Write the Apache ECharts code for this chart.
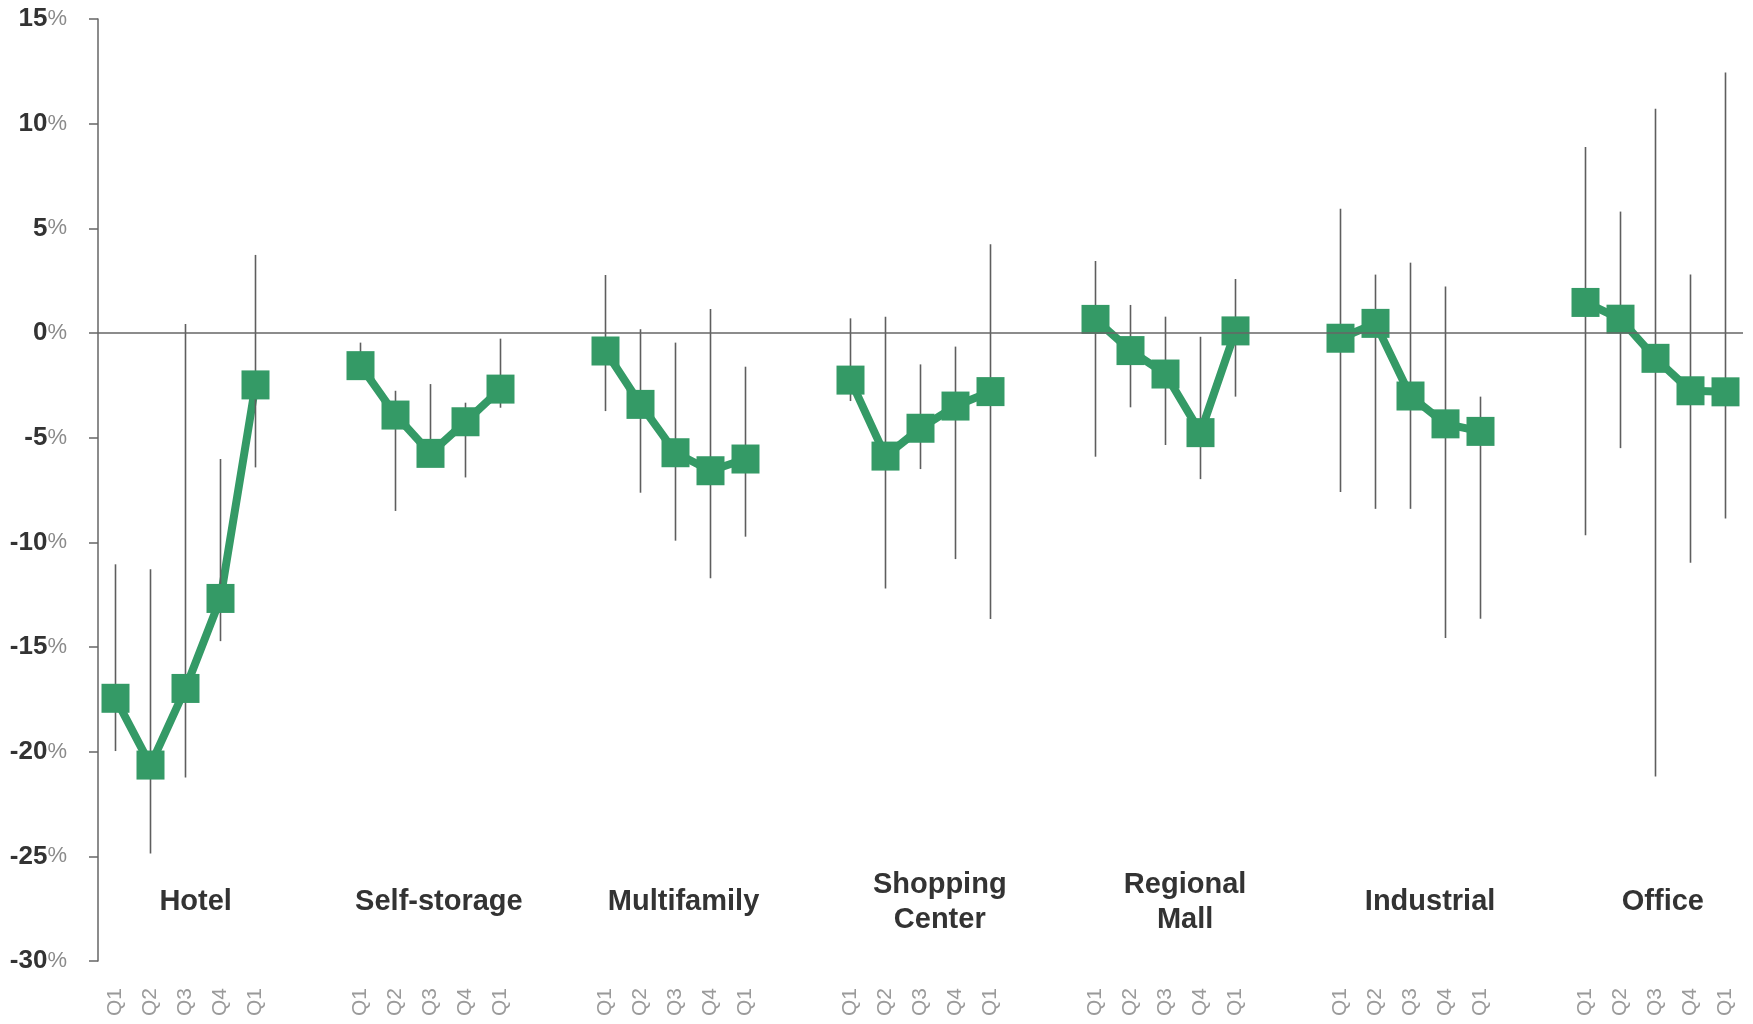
<!DOCTYPE html>
<html>
<head>
<meta charset="utf-8">
<script src="https://cdn.jsdelivr.net/npm/echarts@6/dist/echarts.min.js"></script>
<style>
html,body{margin:0;padding:0;background:#fff;}
#chart{width:1753px;height:1024px;}
</style>
</head>
<body>
<div id="chart"></div>
<script>
// ---- data ----
const groupNames = ['Hotel', 'Self-storage', 'Multifamily', 'Shopping\nCenter', 'Regional\nMall', 'Industrial', 'Office'];
const quarterLabels = ['Q1', 'Q2', 'Q3', 'Q4', 'Q1'];
const yTicks = [-30, -25, -20, -15, -10, -5, 0, 5, 10, 15];

// central estimate (%), group by group, 5 quarters each
const estimate = [
  -17.45, -20.64, -16.98, -12.68, -2.48,   // Hotel
  -1.56, -3.92, -5.75, -4.24, -2.68,       // Self-storage
  -0.86, -3.41, -5.72, -6.58, -6.02,       // Multifamily
  -2.25, -5.88, -4.55, -3.49, -2.80,       // Shopping Center
  0.65, -0.84, -1.96, -4.76, 0.10,         // Regional Mall
  -0.25, 0.46, -3.01, -4.34, -4.70,        // Industrial
  1.46, 0.66, -1.21, -2.76, -2.81          // Office
];
// lower end of range (%)
const lowEnd = [
  -19.97, -24.86, -21.23, -14.72, -6.42,
  -2.10, -8.50, -6.30, -6.90, -3.57,
  -3.73, -7.63, -9.92, -11.72, -9.73,
  -3.25, -12.20, -6.50, -10.80, -13.66,
  -5.91, -3.55, -5.35, -6.98, -3.04,
  -7.60, -8.40, -8.40, -14.57, -13.65,
  -9.66, -5.50, -21.19, -10.98, -8.86
];
// upper end of range (%)
const highEnd = [
  -11.05, -11.28, 0.43, -6.02, 3.73,
  -0.46, -2.76, -2.44, -3.33, -0.27,
  2.77, 0.18, -0.46, 1.15, -1.61,
  0.70, 0.78, -1.50, -0.65, 4.24,
  3.44, 1.34, 0.78, -0.18, 2.58,
  5.94, 2.79, 3.36, 2.22, -3.04,
  8.89, 5.80, 10.71, 2.79, 12.45
];

// ---- layout constants ----
const GAP = 2;                       // empty slots between groups
const SLOT = quarterLabels.length + GAP;
const groupLabelOffset = [2.29, 2.24, 2.23, 2.55, 2.56, 2.56, 2.21];
const groupLabelY = -27.2;
const GREEN = '#349a66';
const FONT = '"Liberation Sans", Arial, sans-serif';

// ---- build series data ----
const categories = [];
const lineData = [];
const squares = [];
const bars = [];
groupNames.forEach((g, gi) => {
  quarterLabels.forEach((q, qi) => {
    const k = gi * quarterLabels.length + qi;
    const idx = categories.length;
    categories.push(q);
    lineData.push(estimate[k]);
    squares.push([idx, estimate[k]]);
    bars.push([idx, lowEnd[k], highEnd[k]]);
  });
  if (gi < groupNames.length - 1) {
    for (let i = 0; i < GAP; i++) { categories.push(''); lineData.push(null); }
  }
});
const labelData = groupNames.map((g, gi) => ({ name: g, value: [gi * SLOT + groupLabelOffset[gi], groupLabelY] }));

const chart = echarts.init(document.getElementById('chart'), null, { renderer: 'canvas' });
chart.setOption({
  animation: false,
  backgroundColor: '#fff',
  grid: { left: 98, right: 10, top: 19, bottom: 63, containLabel: false },
  xAxis: [{
    type: 'category',
    data: categories,
    boundaryGap: true,
    position: 'bottom',
    axisLine: { show: false, onZero: false },
    axisTick: { show: false },
    splitLine: { show: false },
    axisLabel: {
      interval: 0, rotate: 90, margin: 27,
      color: '#9a9a9a', fontSize: 21, fontFamily: FONT
    }
  }, {
    type: 'value',
    min: -0.5, max: categories.length - 0.5,
    show: false,
    axisLine: { onZero: false }
  }],
  yAxis: {
    type: 'value',
    min: -30, max: 15, interval: 5,
    axisLine: { show: true, onZero: false, lineStyle: { color: '#666', width: 1.5 } },
    axisTick: { show: true, length: 9, lineStyle: { color: '#666', width: 1.5 } },
    splitLine: { show: false },
    axisLabel: {
      margin: 31,
      formatter: v => '{a|' + v + '}{b|%}',
      rich: {
        a: { fontSize: 26, fontWeight: 'bold', color: '#333', fontFamily: FONT },
        b: { fontSize: 22, color: '#8a8a8a', fontFamily: FONT }
      }
    }
  },
  series: [
    {
      type: 'line',
      data: lineData,
      connectNulls: false,
      showSymbol: false,
      lineStyle: { color: GREEN, width: 8 },
      z: 2,
      silent: true,
      markLine: {
        silent: true,
        symbol: ['none', 'none'],
        label: { show: false },
        lineStyle: { color: '#666', width: 1.5, type: 'solid' },
        data: [{ yAxis: 0 }]
      }
    },
    {
      type: 'custom',
      data: bars,
      z: 3,
      silent: true,
      renderItem: (params, api) => {
        const a = api.coord([api.value(0), api.value(1)]);
        const b = api.coord([api.value(0), api.value(2)]);
        return {
          type: 'line',
          shape: { x1: a[0], y1: a[1], x2: b[0], y2: b[1] },
          style: { stroke: '#5e5e5e', lineWidth: 1.6 }
        };
      }
    },
    {
      type: 'scatter',
      data: squares,
      symbol: 'rect',
      symbolSize: [28, 29],
      itemStyle: { color: GREEN, opacity: 1 },
      z: 4,
      silent: true
    },
    {
      type: 'scatter',
      xAxisIndex: 1,
      data: labelData,
      symbolSize: 0,
      silent: true,
      z: 5,
      itemStyle: { opacity: 1 },
      label: {
        show: true,
        position: 'inside',
        formatter: '{b}',
        fontSize: 29,
        fontWeight: 'bold',
        color: '#333',
        opacity: 1,
        fontFamily: FONT,
        lineHeight: 35,
        align: 'center',
        verticalAlign: 'middle'
      }
    }
  ]
});
</script>
</body>
</html>
